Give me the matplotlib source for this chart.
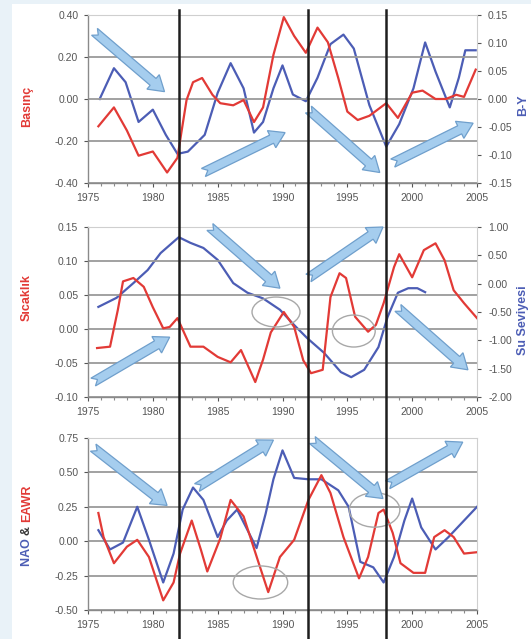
import numpy as np
import matplotlib
matplotlib.use("Agg")
import matplotlib.pyplot as plt
from matplotlib.patches import Polygon, Ellipse, Rectangle
from matplotlib.lines import Line2D
from matplotlib.ticker import MultipleLocator, FormatStrFormatter

plt.rcParams['font.family'] = ['Liberation Sans', 'DejaVu Sans']

# ---------------- data ----------------
years_ticks = [1975, 1980, 1985, 1990, 1995, 2000, 2005]
event_years = [1982, 1992, 1998]

# Panel 1: Basınç (left, red) and B-Y (right, blue)
p1_red_x = [1975.8, 1977.0, 1978.0, 1978.9, 1980.0, 1981.1, 1981.9, 1982.2, 1982.6, 1983.1, 1983.8, 1984.6,
            1985.2, 1986.2, 1987.0, 1987.8, 1988.5, 1989.3, 1990.1, 1990.9, 1991.8, 1992.7, 1993.5, 1994.3,
            1995.0, 1995.8, 1996.7, 1998.0, 1998.9, 2000.0, 2000.8, 2001.8, 2002.6, 2003.4, 2004.0, 2004.9]
p1_red_y = [-0.13, -0.04, -0.15, -0.27, -0.25, -0.35, -0.28, -0.16, -0.005, 0.08, 0.10, 0.02,
            -0.02, -0.03, -0.005, -0.11, -0.04, 0.21, 0.39, 0.30, 0.22, 0.34, 0.27, 0.10,
            -0.06, -0.10, -0.08, -0.02, -0.09, 0.03, 0.04, 0.00, 0.00, 0.02, 0.01, 0.14]
p1_blue_x = [1975.9, 1977.0, 1977.9, 1978.9, 1980.0, 1981.0, 1981.9, 1982.7, 1984.0, 1985.0, 1986.0,
             1987.0, 1987.8, 1988.5, 1989.3, 1990.0, 1990.8, 1991.8, 1992.7, 1993.7, 1994.7, 1995.5,
             1996.7, 1998.0, 1999.0, 2000.1, 2001.0, 2001.8, 2002.9, 2003.6, 2004.1, 2004.9]
p1_blue_y = [0.000, 0.055, 0.030, -0.041, -0.019, -0.064, -0.098, -0.094, -0.064, 0.011, 0.064,
             0.019, -0.060, -0.041, 0.019, 0.060, 0.008, -0.004, 0.038, 0.098, 0.115, 0.090,
             -0.011, -0.085, -0.045, 0.019, 0.101, 0.049, -0.015, 0.038, 0.087, 0.087]

# Panel 2: Sıcaklık (left, red) and Su Seviyesi (right, blue)
p2_red_x = [1975.7, 1976.7, 1977.3, 1977.7, 1978.5, 1979.3, 1980.0, 1980.8, 1981.3, 1981.9, 1982.9, 1983.9,
            1985.0, 1986.0, 1986.8, 1987.9, 1988.5, 1989.1, 1990.1, 1990.9, 1991.6, 1992.2, 1993.1, 1993.7,
            1994.4, 1994.9, 1995.6, 1996.6, 1997.2, 1997.8, 1998.6, 1999.0, 2000.0, 2000.9, 2001.8, 2002.5,
            2003.2, 2004.0, 2005.0]
p2_red_y = [-0.028, -0.026, 0.028, 0.070, 0.075, 0.062, 0.032, 0.001, 0.003, 0.016, -0.026, -0.026,
            -0.041, -0.049, -0.031, -0.078, -0.045, -0.005, 0.025, 0.003, -0.046, -0.065, -0.060, 0.047,
            0.082, 0.075, 0.018, -0.004, 0.006, 0.038, 0.091, 0.110, 0.076, 0.116, 0.126, 0.101,
            0.057, 0.038, 0.016]
p2_blue_x = [1975.8, 1977.2, 1978.5, 1979.6, 1980.6, 1982.0, 1982.9, 1983.9, 1985.0, 1986.2, 1987.3,
             1988.5, 1989.8, 1990.9, 1991.9, 1993.2, 1994.5, 1995.3, 1996.3, 1997.4, 1998.1, 1998.9,
             1999.7, 2000.4, 2001.0]
p2_blue_y = [-0.41, -0.25, 0.01, 0.24, 0.54, 0.82, 0.72, 0.63, 0.42, 0.01, -0.16,
             -0.26, -0.46, -0.73, -0.96, -1.22, -1.56, -1.65, -1.52, -1.12, -0.59, -0.16,
             -0.08, -0.08, -0.15]

# Panel 3: NAO (blue) & EAWR (red)
p3_red_x = [1975.8, 1976.2, 1977.0, 1978.0, 1978.8, 1979.7, 1980.8, 1981.6, 1982.1, 1983.0, 1983.7, 1984.2,
            1985.2, 1986.0, 1987.0, 1988.1, 1988.9, 1989.8, 1990.9, 1992.0, 1993.0, 1993.7, 1994.7, 1995.9,
            1996.6, 1997.4, 1997.8, 1998.5, 1999.1, 2000.1, 2001.0, 2001.7, 2002.5, 2003.2, 2004.0, 2005.0]
p3_red_y = [0.205, 0.03, -0.16, -0.04, 0.01, -0.115, -0.43, -0.30, -0.09, 0.15, -0.06, -0.22,
            0.02, 0.30, 0.18, -0.14, -0.37, -0.115, 0.01, 0.30, 0.48, 0.35, 0.03, -0.27,
            -0.115, 0.205, 0.23, 0.06, -0.16, -0.23, -0.23, 0.03, 0.08, 0.03, -0.09, -0.08]
p3_blue_x = [1975.8, 1976.7, 1977.7, 1978.8, 1979.7, 1980.8, 1981.6, 1982.3, 1983.1, 1983.9, 1985.0,
             1985.7, 1986.5, 1988.0, 1988.7, 1989.3, 1990.0, 1990.9, 1992.0, 1993.0, 1994.3, 1995.1,
             1996.0, 1997.0, 1997.8, 1998.6, 1999.4, 2000.0, 2000.7, 2001.8, 2002.8, 2003.8, 2005.0]
p3_blue_y = [0.08, -0.06, -0.01, 0.25, 0.01, -0.30, -0.09, 0.23, 0.39, 0.30, 0.03,
             0.15, 0.23, -0.05, 0.20, 0.45, 0.66, 0.46, 0.45, 0.45, 0.37, 0.25,
             -0.15, -0.19, -0.30, -0.115, 0.15, 0.31, 0.10, -0.06, 0.03, 0.13, 0.25]

# decorative block arrows (tail year, tail value, head year, head value) in left-axis units
p1_arrows = [(1975.5, 0.32, 1980.9, 0.035), (1983.9, -0.35, 1990.2, -0.16),
             (1992.0, -0.05, 1997.5, -0.35), (1998.5, -0.305, 2004.7, -0.115)]
p2_arrows = [(1975.4, -0.078, 1981.3, -0.012), (1984.4, 0.150, 1989.8, 0.060),
             (1992.0, 0.075, 1997.75, 0.150), (1998.9, 0.031, 2004.3, -0.060)]
p3_arrows = [(1975.4, 0.68, 1981.1, 0.26), (1983.4, 0.39, 1989.3, 0.735),
             (1992.3, 0.735, 1997.75, 0.31), (1998.1, 0.41, 2003.9, 0.72)]
# ellipses (center year, center value, width years, height value)
p2_ellipses = [(1989.5, 0.025, 3.7, 0.044), (1995.5, -0.003, 3.3, 0.047)]
p3_ellipses = [(1988.3, -0.30, 4.2, 0.24), (1997.1, 0.227, 3.9, 0.25)]

RED = '#e23a36'
BLUE = '#4c5db5'
TICKC = '#555555'
TS = 7.5

W, H = 531, 639
fig = plt.figure(figsize=(W / 100, H / 100), dpi=100)
fig.patch.set_facecolor('#e9f2f8')
fig.add_artist(Rectangle((12 / W, 0), 1, 1 - 4 / H, transform=fig.transFigure,
                         facecolor='white', edgecolor='none', zorder=-10))


def make_ax(top_px, bot_px):
    left, right = 88, 477
    ax = fig.add_axes([left / W, 1 - bot_px / H, (right - left) / W, (bot_px - top_px) / H])
    ax.set_facecolor('white')
    ax.set_xlim(1975, 2005)
    ax.set_xticks(years_ticks)
    ax.xaxis.set_minor_locator(MultipleLocator(1))
    ax.grid(axis='y', color='#9a9a9a', lw=1.3)
    ax.set_axisbelow(True)
    for s in ['top', 'right']:
        ax.spines[s].set_color('#cfcfcf')
        ax.spines[s].set_linewidth(0.8)
    for s in ['left', 'bottom']:
        ax.spines[s].set_color('#8a8a8a')
        ax.spines[s].set_linewidth(1.0)
    ax.tick_params(axis='both', which='major', labelsize=TS, colors=TICKC, length=3, width=0.8, pad=4)
    ax.tick_params(axis='x', which='minor', length=2.5, width=0.8, colors='#8a8a8a')
    ax.tick_params(axis='x', which='major', pad=4)
    return ax


def draw_arrow(ax, x0, y0, x1, y1, body=9, headw=19, headl=15, notch=5):
    p0 = ax.transData.transform((x0, y0))
    p1 = ax.transData.transform((x1, y1))
    d = p1 - p0
    L = np.hypot(*d)
    u = d / L
    n = np.array([-u[1], u[0]])
    pb = p1 - u * headl
    pts = [p0 + n * body / 2, pb + n * body / 2, pb + n * headw / 2, p1,
           pb - n * headw / 2, pb - n * body / 2, p0 - n * body / 2, p0 + u * notch]
    pts = ax.transData.inverted().transform(np.array(pts))
    ax.add_patch(Polygon(pts, closed=True, facecolor='#a5cdee', edgecolor='#6f9fcc',
                         lw=0.9, zorder=5, clip_on=False))


def right_axis(ax, lo, hi, step):
    axr = ax.twinx()
    axr.set_ylim(lo, hi)
    axr.set_yticks(np.arange(lo, hi + step / 10, step))
    axr.yaxis.set_major_formatter(FormatStrFormatter('%.2f'))
    axr.tick_params(axis='y', labelsize=TS, colors=TICKC, length=3, width=0.8, pad=5)
    for s in axr.spines.values():
        s.set_visible(False)
    return axr


# ---------- Panel 1 ----------
ax1 = make_ax(15, 183)
ax1.set_ylim(-0.40, 0.40)
ax1.set_yticks(np.arange(-0.4, 0.41, 0.2))
ax1.yaxis.set_major_formatter(FormatStrFormatter('%.2f'))
ax1.plot(p1_red_x, p1_red_y, color=RED, lw=1.6, zorder=3)
ax1r = right_axis(ax1, -0.15, 0.15, 0.05)
ax1r.plot(p1_blue_x, p1_blue_y, color=BLUE, lw=1.6, zorder=3)

# ---------- Panel 2 ----------
ax2 = make_ax(227, 397)
ax2.set_ylim(-0.10, 0.15)
ax2.set_yticks(np.arange(-0.10, 0.151, 0.05))
ax2.yaxis.set_major_formatter(FormatStrFormatter('%.2f'))
ax2.plot(p2_red_x, p2_red_y, color=RED, lw=1.6, zorder=3)
ax2r = right_axis(ax2, -2.0, 1.0, 0.5)
ax2r.plot(p2_blue_x, p2_blue_y, color=BLUE, lw=1.6, zorder=3)

# ---------- Panel 3 ----------
ax3 = make_ax(438, 610)
ax3.set_ylim(-0.50, 0.75)
ax3.set_yticks(np.arange(-0.50, 0.751, 0.25))
ax3.yaxis.set_major_formatter(FormatStrFormatter('%.2f'))
ax3.plot(p3_blue_x, p3_blue_y, color=BLUE, lw=1.6, zorder=3)
ax3.plot(p3_red_x, p3_red_y, color=RED, lw=1.6, zorder=3)

# layering: left axes (grid, red line, arrows) above twin axes
for a_main, a_tw in [(ax1, ax1r), (ax2, ax2r)]:
    a_tw.set_zorder(0)
    a_tw.patch.set_visible(True)
    a_tw.patch.set_facecolor('white')
    a_main.set_zorder(1)
    a_main.patch.set_visible(False)

# arrows and ellipses
for a in p1_arrows:
    draw_arrow(ax1, *a)
for a in p2_arrows:
    draw_arrow(ax2, *a)
for a in p3_arrows:
    draw_arrow(ax3, *a)
for (cx, cy, w, h) in p2_ellipses:
    ax2.add_patch(Ellipse((cx, cy), w, h, fill=False, edgecolor='#a8a8a8', lw=1.0, zorder=4))
for (cx, cy, w, h) in p3_ellipses:
    ax3.add_patch(Ellipse((cx, cy), w, h, fill=False, edgecolor='#a8a8a8', lw=1.0, zorder=4))

# axis labels
LS = 9
lab = dict(rotation=90, ha='center', va='center', fontsize=LS, fontweight='bold')
fig.text(27 / W, 1 - 106 / H, 'Basınç', color=RED, **lab)
fig.text(523 / W, 1 - 105 / H, 'B-Y', color=BLUE, **lab)
fig.text(27 / W, 1 - 298 / H, 'Sıcaklık', color=RED, **lab)
fig.text(523 / W, 1 - 320 / H, 'Su Seviyesi', color=BLUE, **lab)

# "NAO & EAWR" composed from coloured pieces, reading bottom to top
renderer = fig.canvas.get_renderer()
y_px = H - 566
for piece, col in [('NAO ', BLUE), ('& ', '#333333'), ('EAWR', RED)]:
    t = fig.text(27 / W, y_px / H, piece, color=col, rotation=90, ha='center', va='bottom',
                 fontsize=LS, fontweight='bold')
    ext = t.get_window_extent(renderer=renderer)
    y_px += ext.height

# vertical event lines across the whole figure
inv = fig.transFigure.inverted()
for yr in event_years:
    xf = inv.transform(ax1.transData.transform((yr, 0)))[0]
    fig.add_artist(Line2D([xf, xf], [0, 1 - 10 / H], transform=fig.transFigure,
                          color='#1e1e1e', lw=1.8, zorder=20))

fig.savefig('out.png', dpi=100, facecolor=fig.get_facecolor())
